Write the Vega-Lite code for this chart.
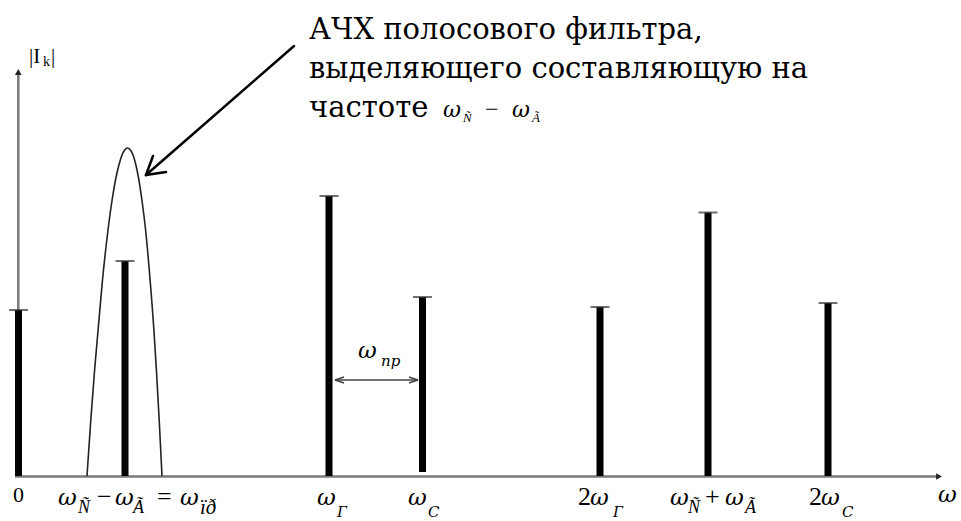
{
  "$schema": "https://vega.github.io/schema/vega-lite/v6.json",
  "width": 961,
  "height": 521,
  "padding": 0,
  "autosize": {"type": "fit", "contains": "padding"},
  "background": "white",
  "config": {"view": {"stroke": null}},
  "encoding": {
    "x": {"field": "x", "type": "quantitative", "axis": null, "scale": {"domain": [-18, 943], "nice": false, "zero": false}},
    "y": {"field": "y", "type": "quantitative", "axis": null, "scale": {"domain": [-45, 476], "nice": false, "zero": false}}
  },
  "layer": [
    {
      "data": {"values": [
        {"x": -3, "y": -0.5, "x2": 920, "y2": -0.5},
        {"x": 0.3, "y": 0, "x2": 0.3, "y2": 402}
      ]},
      "mark": {"type": "rule", "color": "#7a7a7a", "strokeWidth": 2.5},
      "encoding": {"x2": {"field": "x2"}, "y2": {"field": "y2"}}
    },
    {
      "data": {"values": [
        {"x": 921, "y": -0.5, "s": "triangle-right"},
        {"x": 0.3, "y": 404, "s": "triangle-up"}
      ]},
      "mark": {"type": "point", "filled": true, "color": "#222", "size": 45, "opacity": 1},
      "encoding": {"shape": {"field": "s", "type": "nominal", "scale": null}}
    },
    {
      "data": {"values": [
        {"name": "0", "x": 0.5, "y": 166, "y2": 0},
        {"name": "wc-wg", "x": 107, "y": 215, "y2": 0},
        {"name": "wg", "x": 311, "y": 280, "y2": 0},
        {"name": "wc", "x": 404.5, "y": 179, "y2": 4},
        {"name": "2wg", "x": 582, "y": 169, "y2": 0},
        {"name": "wc+wg", "x": 690, "y": 263.5, "y2": 0},
        {"name": "2wc", "x": 810, "y": 173, "y2": 0}
      ]},
      "layer": [
        {"mark": {"type": "rule", "color": "black", "strokeWidth": 7}, "encoding": {"y2": {"field": "y2"}}},
        {"mark": {"type": "tick", "orient": "horizontal", "color": "#333", "size": 19, "thickness": 2}}
      ]
    },
    {
      "data": {"values": [
        {"x": 69, "y": 0}, {"x": 72.8, "y": 56}, {"x": 76.6, "y": 106}, {"x": 80.1, "y": 146},
        {"x": 84.5, "y": 196}, {"x": 90, "y": 246}, {"x": 94.1, "y": 276}, {"x": 97.5, "y": 296},
        {"x": 100.9, "y": 311}, {"x": 104, "y": 321}, {"x": 106.7, "y": 326}, {"x": 109.5, "y": 328},
        {"x": 112.4, "y": 326}, {"x": 115, "y": 321}, {"x": 117.9, "y": 311}, {"x": 120.9, "y": 296},
        {"x": 123.9, "y": 276}, {"x": 127.6, "y": 246}, {"x": 132.1, "y": 196}, {"x": 135.9, "y": 146},
        {"x": 138.4, "y": 106}, {"x": 141.2, "y": 56}, {"x": 144, "y": 0}
      ]},
      "mark": {"type": "line", "color": "#222", "strokeWidth": 1.6, "interpolate": "monotone"}
    },
    {
      "data": {"values": [
        {"x": 276, "y": 430, "x2": 128, "y2": 301},
        {"x": 128, "y": 301, "x2": 135, "y2": 320},
        {"x": 128, "y": 301, "x2": 148, "y2": 304}
      ]},
      "mark": {"type": "rule", "color": "black", "strokeWidth": 2.5, "strokeCap": "round"},
      "encoding": {"x2": {"field": "x2"}, "y2": {"field": "y2"}}
    },
    {
      "data": {"values": [
        {"x": 317, "y": 96, "x2": 400, "y2": 96},
        {"x": 317, "y": 96, "x2": 326, "y2": 99},
        {"x": 317, "y": 96, "x2": 326, "y2": 93},
        {"x": 400, "y": 96, "x2": 391, "y2": 99},
        {"x": 400, "y": 96, "x2": 391, "y2": 93}
      ]},
      "mark": {"type": "rule", "color": "#444", "strokeWidth": 1.6},
      "encoding": {"x2": {"field": "x2"}, "y2": {"field": "y2"}}
    },
    {
      "data": {"values": [
        {"x": 40, "y": -29, "t": "ω"}, {"x": 97, "y": -29, "t": "ω"}, {"x": 162, "y": -29, "t": "ω"},
        {"x": 299, "y": -29, "t": "ω"}, {"x": 390, "y": -29, "t": "ω"}, {"x": 572, "y": -29, "t": "ω"},
        {"x": 652, "y": -29, "t": "ω"}, {"x": 707, "y": -29, "t": "ω"}, {"x": 803, "y": -29, "t": "ω"},
        {"x": 920, "y": -26, "t": "ω"}, {"x": 340, "y": 118, "t": "ω"}
      ]},
      "mark": {"type": "text", "align": "left", "baseline": "alphabetic", "font": "DejaVu Serif", "fontStyle": "italic", "fontSize": 23, "color": "black"},
      "encoding": {"text": {"field": "t"}}
    },
    {
      "data": {"values": [
        {"x": 60, "y": -37, "t": "Ñ"}, {"x": 115, "y": -37, "t": "Ã"},
        {"x": 670, "y": -37, "t": "Ñ"}, {"x": 727, "y": -37, "t": "Ã"}
      ]},
      "mark": {"type": "text", "align": "left", "baseline": "alphabetic", "font": "Liberation Serif", "fontStyle": "italic", "fontSize": 18, "color": "black"},
      "encoding": {"text": {"field": "t"}}
    },
    {
      "data": {"values": [
        {"x": 182, "y": -38, "t": "ïð"}
      ]},
      "mark": {"type": "text", "align": "left", "baseline": "alphabetic", "font": "Liberation Serif", "fontStyle": "italic", "fontSize": 21, "color": "black"},
      "encoding": {"text": {"field": "t"}}
    },
    {
      "data": {"values": [
        {"x": 319, "y": -41, "t": "Г"}, {"x": 410, "y": -41, "t": "С"}, {"x": 595, "y": -41, "t": "Г"},
        {"x": 824, "y": -41, "t": "С"}, {"x": 363, "y": 110, "t": "пр"}
      ]},
      "mark": {"type": "text", "align": "left", "baseline": "alphabetic", "font": "DejaVu Serif", "fontStyle": "italic", "fontSize": 15, "color": "black"},
      "encoding": {"text": {"field": "t"}}
    },
    {
      "data": {"values": [
        {"x": 79, "y": -29, "t": "−"}, {"x": 139, "y": -29, "t": "="}, {"x": 687, "y": -29, "t": "+"},
        {"x": 560, "y": -29, "t": "2"}, {"x": 791, "y": -29, "t": "2"}
      ]},
      "mark": {"type": "text", "align": "left", "baseline": "alphabetic", "font": "Liberation Serif", "fontSize": 26, "color": "black"},
      "encoding": {"text": {"field": "t"}}
    },
    {
      "data": {"values": [
        {"x": -5, "y": -26, "t": "0"}
      ]},
      "mark": {"type": "text", "align": "left", "baseline": "alphabetic", "font": "Liberation Serif", "fontSize": 22, "color": "black"},
      "encoding": {"text": {"field": "t"}}
    },
    {
      "data": {"values": [
        {"x": 11, "y": 413, "t": "|I"}, {"x": 33, "y": 413, "t": "|"}
      ]},
      "mark": {"type": "text", "align": "left", "baseline": "alphabetic", "font": "Liberation Serif", "fontSize": 21, "color": "black"},
      "encoding": {"text": {"field": "t"}}
    },
    {
      "data": {"values": [
        {"x": 25, "y": 410, "t": "k"}
      ]},
      "mark": {"type": "text", "align": "left", "baseline": "alphabetic", "font": "Liberation Serif", "fontSize": 14, "color": "black"},
      "encoding": {"text": {"field": "t"}}
    },
    {
      "data": {"values": [
        {"x": 291, "y": 437, "t": "АЧХ полосового фильтра,"},
        {"x": 291, "y": 398, "t": "выделяющего составляющую на"},
        {"x": 291, "y": 359, "t": "частоте"}
      ]},
      "mark": {"type": "text", "align": "left", "baseline": "alphabetic", "font": "DejaVu Serif", "fontSize": 29, "color": "black"},
      "encoding": {"text": {"field": "t"}}
    },
    {
      "data": {"values": [
        {"x": 425, "y": 359, "t": "ω"}, {"x": 494, "y": 359, "t": "ω"}
      ]},
      "mark": {"type": "text", "align": "left", "baseline": "alphabetic", "font": "DejaVu Serif", "fontStyle": "italic", "fontSize": 22, "color": "black"},
      "encoding": {"text": {"field": "t"}}
    },
    {
      "data": {"values": [
        {"x": 445, "y": 354, "t": "Ñ"}, {"x": 514, "y": 354, "t": "Ã"}
      ]},
      "mark": {"type": "text", "align": "left", "baseline": "alphabetic", "font": "Liberation Serif", "fontStyle": "italic", "fontSize": 13, "color": "black"},
      "encoding": {"text": {"field": "t"}}
    },
    {
      "data": {"values": [
        {"x": 467, "y": 359, "t": "−"}
      ]},
      "mark": {"type": "text", "align": "left", "baseline": "alphabetic", "font": "Liberation Serif", "fontSize": 24, "color": "black"},
      "encoding": {"text": {"field": "t"}}
    }
  ]
}
